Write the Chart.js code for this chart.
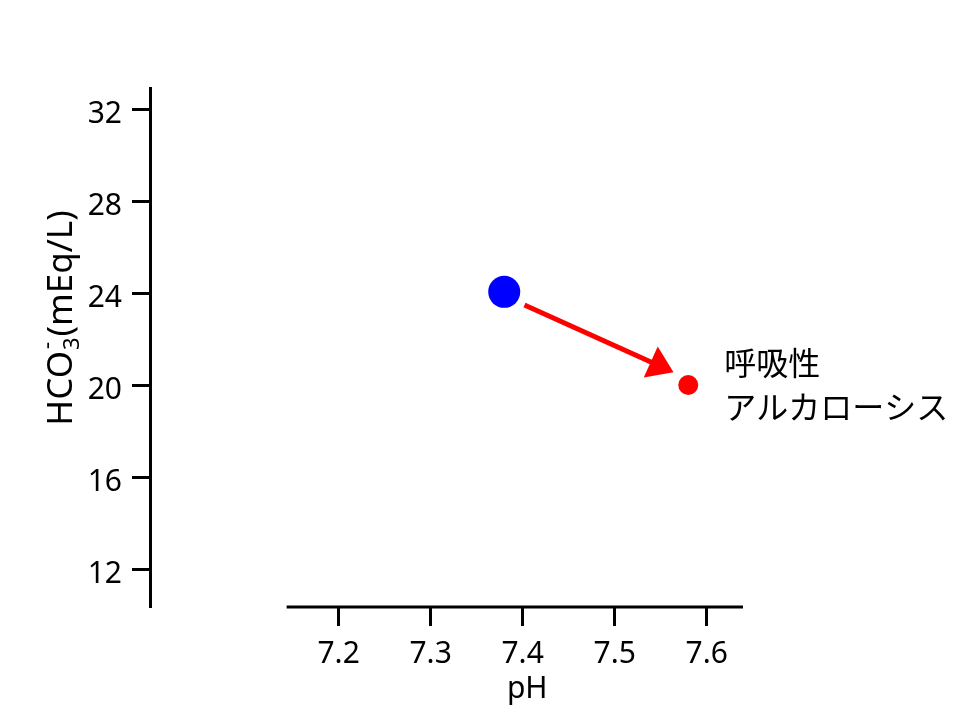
<!DOCTYPE html>
<html>
<head>
  <meta charset="utf-8">
  <title>呼吸性アルカローシス</title>
  <script src="https://cdn.jsdelivr.net/npm/chart.js"></script>
  <style>
    html, body {
      margin: 0;
      padding: 0;
      background: #fff;
    }
    #wrap {
      width: 960px;
      height: 720px;
    }
  </style>
</head>
<body>
  <div id="wrap"><canvas id="chartCanvas" width="960" height="720"></canvas></div>

  <script>
    // data
    const phTicks = [7.2, 7.3, 7.4, 7.5, 7.6];
    const hco3Ticks = [12, 16, 20, 24, 28, 32];
    const phValues = [7.38, 7.58];
    const hco3Values = [24.05, 20];
    const pointColors = ['#0000ff', '#ff0000'];
    const arrowStart = [7.402, 23.48];
    const arrowTip = [7.564, 20.56];
    const xAxisFrom = 7.1435;
    const labelLines = ['呼吸性', 'アルカローシス'];

    const latinFont = '"Noto Sans", "DejaVu Sans", sans-serif';
    const cjkFont = '"Noto Sans CJK JP", sans-serif';

    const decorations = {
      id: 'decorations',
      afterDraw(chart) {
        const ctx = chart.ctx;
        const x = chart.scales.x;
        const y = chart.scales.y;
        const area = chart.chartArea;
        ctx.save();

        // detached x axis line
        ctx.strokeStyle = '#000';
        ctx.lineWidth = 3;
        ctx.beginPath();
        ctx.moveTo(x.getPixelForValue(xAxisFrom), area.bottom);
        ctx.lineTo(area.right, area.bottom);
        ctx.stroke();

        // arrow
        const sx = x.getPixelForValue(arrowStart[0]);
        const sy = y.getPixelForValue(arrowStart[1]);
        const tx = x.getPixelForValue(arrowTip[0]);
        const ty = y.getPixelForValue(arrowTip[1]);
        const len = Math.hypot(tx - sx, ty - sy);
        const ux = (tx - sx) / len, uy = (ty - sy) / len;
        const headLen = 25, headHalf = 17;
        const bx = tx - ux * headLen, by = ty - uy * headLen;
        ctx.strokeStyle = '#ff0000';
        ctx.fillStyle = '#ff0000';
        ctx.lineWidth = 5;
        ctx.beginPath();
        ctx.moveTo(sx, sy);
        ctx.lineTo(bx + ux * 2, by + uy * 2);
        ctx.stroke();
        ctx.beginPath();
        ctx.moveTo(tx, ty);
        ctx.lineTo(bx - uy * headHalf, by + ux * headHalf);
        ctx.lineTo(bx + uy * headHalf, by - ux * headHalf);
        ctx.closePath();
        ctx.fill();

        // label next to the red point
        const px = x.getPixelForValue(phValues[1]);
        const py = y.getPixelForValue(hco3Values[1]);
        ctx.fillStyle = '#000';
        ctx.font = '32px ' + cjkFont;
        ctx.textAlign = 'left';
        ctx.textBaseline = 'middle';
        ctx.fillText(labelLines[0], px + 36, py - 22);
        ctx.fillText(labelLines[1], px + 36, py + 22);

        // x title
        ctx.font = '30px ' + latinFont;
        ctx.textAlign = 'center';
        ctx.textBaseline = 'alphabetic';
        ctx.fillText('pH', x.getPixelForValue(7.405), 698);

        // y title with subscript / superscript
        ctx.translate(72, 318);
        ctx.rotate(-Math.PI / 2);
        const big = '35px ' + latinFont;
        const small = '22px ' + latinFont;
        ctx.font = big;
        const w1 = ctx.measureText('HCO').width;
        const w3 = ctx.measureText('(mEq/L)').width;
        ctx.font = small;
        const w2 = Math.max(ctx.measureText('3').width, ctx.measureText('-').width) + 2;
        const total = w1 + w2 + w3;
        let cx = -total / 2;
        ctx.textAlign = 'left';
        ctx.font = big;
        ctx.fillText('HCO', cx, 0);
        cx += w1;
        ctx.font = small;
        ctx.fillText('3', cx + 1, 7);
        ctx.fillText('-', cx + 2, -18);
        cx += w2;
        ctx.font = big;
        ctx.fillText('(mEq/L)', cx, 0);
        ctx.restore();
      }
    };

    new Chart(document.getElementById('chartCanvas').getContext('2d'), {
      type: 'scatter',
      data: {
        datasets: [{
          data: phValues.map((v, i) => ({ x: v, y: hco3Values[i] })),
          backgroundColor: pointColors,
          borderWidth: 0,
          pointRadius: [16, 10],
          pointHoverRadius: [16, 10]
        }]
      },
      options: {
        responsive: false,
        animation: false,
        events: [],
        layout: { padding: { top: 88, right: 217, left: 0, bottom: 0 } },
        plugins: {
          legend: { display: false },
          tooltip: { enabled: false }
        },
        scales: {
          x: {
            type: 'linear',
            min: 6.995,
            max: 7.6395,
            afterBuildTicks: s => { s.ticks = phTicks.map(v => ({ value: v })); },
            afterFit: s => { s.height = 113; },
            border: { display: false },
            grid: {
              drawOnChartArea: false,
              drawTicks: true,
              tickLength: 19,
              tickWidth: 3,
              tickColor: '#000'
            },
            ticks: {
              color: '#000',
              padding: 10,
              font: { family: latinFont, size: 30 },
              callback: v => v.toFixed(1)
            }
          },
          y: {
            type: 'linear',
            min: 10.35,
            max: 32.913,
            afterBuildTicks: s => { s.ticks = hco3Ticks.map(v => ({ value: v })); },
            afterFit: s => { s.width = 150; },
            border: { display: true, color: '#000', width: 3 },
            grid: {
              drawOnChartArea: false,
              drawTicks: true,
              tickLength: 18,
              tickWidth: 3,
              tickColor: '#000'
            },
            ticks: {
              color: '#000',
              padding: 10,
              labelOffset: 5,
              font: { family: latinFont, size: 30 },
              callback: v => String(v)
            }
          }
        }
      },
      plugins: [decorations]
    });
  </script>
</body>
</html>
